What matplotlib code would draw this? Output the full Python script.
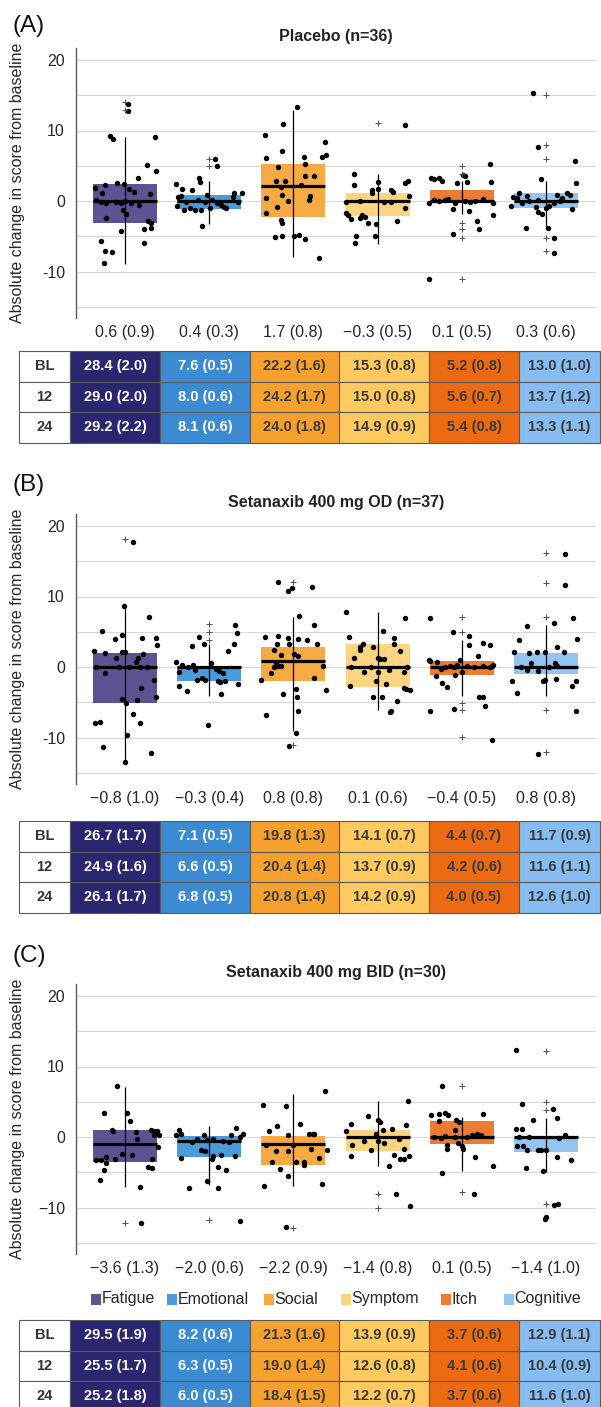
import matplotlib
matplotlib.use("Agg")
import matplotlib.pyplot as plt
from matplotlib.patches import Rectangle

plt.rcParams["font.family"] = ["Liberation Sans", "DejaVu Sans"]

# ---- shared ----
categories = ["Fatigue", "Emotional", "Social", "Symptom", "Itch", "Cognitive"]
timepoints = ["BL", "12", "24"]
box_colors = ["#5c5393", "#4b9bdb", "#f5aa43", "#fdd480", "#ee7b33", "#94c5f1"]
cell_colors = ["#2b2670", "#3a8bd2", "#f6a12e", "#fec95e", "#ec6a12", "#87bcf0"]
cell_text_colors = ["white", "white", "#3a3a3a", "#3a3a3a", "#3a3a3a", "#3a3a3a"]

# ---- (A) Placebo ----
placebo_title = "Placebo (n=36)"
placebo_q1 = [-3.1, -1.13, -2.2, -2.1, -0.3, -0.95]
placebo_median = [0.0, 0.0, 2.1, 0.0, 0.0, 0.0]
placebo_q3 = [2.36, 0.85, 5.3, 1.1, 1.55, 1.1]
placebo_lo = [-8.9, -3.2, -7.9, -6.1, -1.9, -3.9]
placebo_hi = [9.1, 2.9, 12.9, 3.8, 2.9, 2.9]
placebo_outliers = [[14.1, 12.9], [6.0, 5.0], [], [11.0],
                    [5.0, 3.8, -3.1, -4.0, -5.2, -11.1],
                    [15.0, 7.9, 5.9, -5.2, -7.1]]
placebo_dots = [
    [(-0.18, 9.2), (-0.14, 8.8), (0.36, 9.1), (0.03, 13.8), (0.03, 12.7), (0.26, 5.1), (0.37, 4.2),
     (0.15, 3.2), (-0.36, 1.9), (-0.24, 2.3), (-0.09, 2.6), (-0.01, 2.4), (0.05, 1.65), (0.11, 1.3),
     (0.30, 1.0), (-0.27, 1.2), (-0.34, 0.2), (-0.29, -0.2), (-0.23, -0.3), (-0.11, -0.1), (-0.05, -0.3),
     (0.0, 0.0), (0.07, -0.3), (0.17, -0.6), (-0.02, -1.3), (0.01, -1.8), (-0.22, -2.4), (0.27, -2.9),
     (0.31, -3.1), (-0.05, -4.2), (0.23, -4.0), (0.31, -3.9), (-0.28, -5.7), (0.23, -5.9), (-0.24, -7.1),
     (-0.16, -7.3), (-0.25, -8.8)],
    [(0.07, 5.9), (0.09, 5.0), (-0.39, 2.4), (-0.12, 3.3), (-0.11, 2.7), (-0.2, 1.5), (-0.32, 1.65),
     (-0.33, 0.7), (-0.37, 0.5), (-0.27, -0.1), (-0.23, -1.0), (-0.3, -1.3), (-0.38, -0.7), (-0.17, -1.3),
     (-0.1, -1.3), (-0.13, 0.15), (-0.05, -0.1), (0.03, 0.15), (-0.03, 0.85), (0.09, -0.3), (0.14, -0.6),
     (0.18, -0.8), (0.2, -1.0), (0.01, -1.0), (0.28, 0.6), (0.34, -0.1), (0.39, 1.2), (0.3, 1.1),
     (-0.08, -3.5), (0.11, -0.1)],
    [(-0.34, 9.4), (-0.12, 10.9), (0.04, 13.4), (0.38, 8.3), (-0.32, 6.05), (-0.13, 7.1), (0.12, 6.3),
     (0.34, 6.2), (0.39, 6.5), (-0.18, 4.8), (0.14, 5.2), (-0.21, 2.8), (-0.1, 2.8), (-0.32, 0.4),
     (-0.19, -0.8), (-0.15, 2.0), (-0.13, 0.85), (-0.07, 0.0), (0.09, 2.3), (0.14, 3.5), (0.24, 3.5),
     (0.2, 0.7), (0.18, 0.15), (-0.32, -1.65), (-0.15, -2.7), (-0.13, -3.1), (-0.22, -5.1), (-0.13, -5.0),
     (0.01, -5.0), (0.07, -4.8), (0.14, -5.4), (0.3, -8.1)],
    [(0.33, 10.8), (-0.28, 3.8), (-0.28, 2.2), (0.0, 2.7), (-0.07, 1.55), (-0.07, 1.2), (0.0, 1.7),
     (0.16, 1.55), (0.18, 1.3), (0.33, 2.6), (0.36, 2.8), (0.37, 0.7), (-0.37, -0.1), (-0.21, 0.0),
     (-0.38, -1.75), (-0.35, -2.0), (-0.31, -2.6), (-0.19, -2.0), (-0.15, -2.3), (-0.21, -2.4),
     (-0.11, -3.1), (-0.02, -3.2), (0.08, -0.1), (0.16, -0.2), (0.23, -2.9), (0.33, -1.0), (-0.26, -5.0),
     (-0.27, -5.9), (-0.03, -4.95)],
    [(-0.39, -11.1), (-0.37, 3.3), (-0.33, 3.1), (-0.27, 3.3), (-0.23, 2.9), (0.01, 3.7), (0.04, 3.6),
     (0.06, 2.7), (-0.06, 2.6), (0.33, 5.2), (0.35, 2.7), (-0.39, -0.3), (-0.33, 0.15), (-0.27, 0.0),
     (-0.2, 0.15), (-0.16, 0.25), (-0.11, -1.2), (-0.08, -0.3), (0.04, 0.0), (0.1, -0.1), (0.16, 0.0),
     (0.25, 0.25), (0.37, -0.3), (0.09, -1.4), (0.37, -2.0), (0.18, -2.9), (0.2, -4.0), (-0.1, -4.7)],
    [(-0.15, 15.3), (-0.09, 7.7), (-0.06, 3.1), (0.34, 5.7), (0.36, 2.6), (-0.32, 1.2), (-0.39, 0.6),
     (-0.35, 0.4), (-0.22, 0.7), (-0.41, -0.65), (-0.28, -0.25), (-0.2, 0.0), (-0.12, -0.8), (-0.1, -1.5),
     (-0.05, -1.85), (0.0, -1.0), (0.04, -0.65), (-0.1, 0.15), (0.13, 0.85), (0.19, 0.4), (0.25, 1.1),
     (0.29, 0.85), (0.09, -0.25), (0.17, 0.0), (0.31, -1.1), (-0.24, -3.8), (0.02, -3.8), (0.09, -5.3),
     (0.09, -7.4)],
]
placebo_change = [0.6, 0.4, 1.7, -0.3, 0.1, 0.3]
placebo_change_se = [0.9, 0.3, 0.8, 0.5, 0.5, 0.6]
placebo_table = [[28.4, 7.6, 22.2, 15.3, 5.2, 13.0],
                 [29.0, 8.0, 24.2, 15.0, 5.6, 13.7],
                 [29.2, 8.1, 24.0, 14.9, 5.4, 13.3]]
placebo_table_se = [[2.0, 0.5, 1.6, 0.8, 0.8, 1.0],
                    [2.0, 0.6, 1.7, 0.8, 0.7, 1.2],
                    [2.2, 0.6, 1.8, 0.9, 0.8, 1.1]]

# ---- (B) Setanaxib 400 mg OD ----
od_title = "Setanaxib 400 mg OD (n=37)"
od_q1 = [-5.1, -2.0, -2.0, -2.9, -1.1, -1.0]
od_median = [0.0, 0.0, 0.9, 0.0, 0.0, 0.0]
od_q3 = [2.0, 0.0, 2.9, 3.2, 0.9, 2.0]
od_lo = [-13.5, -4.1, -9.1, -6.05, -4.1, -4.1]
od_hi = [8.8, 3.2, 7.1, 7.85, 3.9, 5.96]
od_outliers = [[18.1], [6.05, 4.9, 3.9], [12.0, -11.0], [],
               [7.05, 4.9, -5.1, -6.05, -9.9],
               [16.1, 11.9, 7.05, -6.05, -12.1]]
od_dots = [
    [(0.09, 17.8), (-0.01, 8.65), (0.29, 7.1), (-0.27, 5.1), (-0.12, 4.0), (-0.03, 4.6), (0.2, 4.1),
     (0.37, 4.1), (0.38, 3.1), (-0.37, 2.2), (-0.24, 2.0), (-0.11, 1.3), (-0.04, 2.1), (0.0, 2.1),
     (0.21, 1.8), (0.16, 1.3), (-0.34, 0.0), (-0.24, -0.85), (-0.07, 0.0), (0.05, 0.0), (0.13, 0.65),
     (0.18, 0.0), (0.26, 0.0), (0.35, -1.8), (0.19, -3.0), (0.37, -4.3), (-0.04, -4.5), (0.01, -5.1),
     (0.14, -4.7), (0.09, -6.7), (-0.36, -8.0), (-0.3, -7.85), (0.18, -8.0), (0.02, -9.7), (-0.26, -11.4),
     (0.31, -12.2), (0.0, -13.5)],
    [(-0.4, 0.65), (-0.2, 3.0), (-0.12, 4.2), (-0.06, 3.2), (0.31, 6.0), (0.33, 4.8), (0.29, 3.3),
     (0.22, 2.2), (-0.36, -0.75), (-0.32, 0.25), (-0.25, 0.0), (-0.19, 0.25), (-0.17, -0.4), (-0.36, -2.7),
     (-0.26, -3.45), (-0.14, -1.9), (-0.09, -1.55), (-0.05, -1.8), (0.02, 0.55), (0.08, -0.3), (0.12, -0.5),
     (0.1, -2.0), (0.13, -2.1), (0.19, -2.0), (0.16, -0.85), (0.14, -3.8), (0.34, -2.4), (-0.01, -8.2)],
    [(-0.18, 12.0), (-0.06, 10.8), (-0.02, 11.2), (0.07, 7.2), (0.22, 11.4), (0.25, 5.9), (-0.34, 4.25),
     (-0.18, 4.35), (-0.07, 4.1), (0.05, 4.0), (0.16, 3.9), (-0.19, 3.2), (-0.05, 3.2), (0.28, 3.2),
     (-0.23, 2.4), (-0.15, 1.75), (0.01, 1.9), (0.05, 1.6), (-0.27, -0.85), (-0.23, -0.05), (-0.18, 0.1),
     (-0.15, 0.2), (-0.21, 0.55), (-0.39, -1.8), (0.24, -1.55), (0.35, 0.1), (-0.12, -3.9), (0.03, -3.1),
     (0.04, -4.25), (0.05, -6.3), (0.39, -3.3), (-0.33, -6.85), (0.03, -9.4), (-0.05, -11.25)],
    [(-0.37, 7.85), (0.32, 6.9), (0.06, 5.1), (-0.34, 4.3), (0.2, 4.1), (-0.21, 2.9), (-0.17, 3.2),
     (-0.06, 2.8), (0.19, 3.2), (0.27, 2.3), (-0.28, 1.3), (0.03, 1.1), (0.08, 1.1), (-0.21, 2.4),
     (0.0, 1.3), (-0.31, 0.0), (-0.16, -0.75), (-0.08, 0.0), (0.0, -0.75), (0.14, -0.4), (0.31, -0.75),
     (0.35, 0.0), (-0.33, -2.7), (-0.02, -2.0), (0.1, -2.4), (-0.06, -4.2), (0.05, -4.25), (0.23, -4.8),
     (0.31, -3.0), (0.34, -3.1), (0.39, -3.3), (0.16, -6.3), (0.15, -6.4)],
    [(-0.38, 7.0), (-0.1, 4.9), (0.09, 4.45), (0.25, 3.4), (0.34, 3.1), (0.08, 3.1), (0.19, 1.5),
     (-0.39, 1.05), (-0.38, 0.8), (-0.29, 0.65), (-0.25, -0.3), (-0.2, 0.0), (-0.14, 0.1), (-0.09, 0.0),
     (-0.06, 0.3), (-0.02, 1.05), (0.06, 0.2), (0.14, 0.0), (0.25, 0.2), (0.33, 0.0), (0.37, 0.3),
     (-0.31, -1.3), (-0.23, -2.2), (-0.17, -2.9), (-0.08, -1.1), (0.0, -0.7), (0.2, -4.2), (0.25, -4.3),
     (0.27, -5.6), (-0.09, -5.9), (-0.38, -6.2), (0.36, -10.3)],
    [(0.22, 16.0), (0.23, 11.6), (0.32, 7.0), (0.09, 6.2), (-0.23, 5.8), (-0.32, 3.9), (0.37, 4.0),
     (0.13, 2.9), (-0.38, 2.1), (-0.2, 2.0), (-0.11, 2.1), (-0.01, 2.1), (0.21, 2.1), (-0.3, 0.0),
     (-0.23, -0.4), (-0.18, 0.55), (-0.09, -0.6), (0.03, 0.0), (0.11, 0.5), (0.13, 0.2), (-0.4, -2.0),
     (-0.34, -3.7), (-0.03, -2.0), (-0.01, -1.8), (0.12, -1.7), (0.31, -2.7), (0.36, -2.0), (0.36, -6.3),
     (-0.09, -12.4)],
]
od_change = [-0.8, -0.3, 0.8, 0.1, -0.4, 0.8]
od_change_se = [1.0, 0.4, 0.8, 0.6, 0.5, 0.8]
od_table = [[26.7, 7.1, 19.8, 14.1, 4.4, 11.7],
            [24.9, 6.6, 20.4, 13.7, 4.2, 11.6],
            [26.1, 6.8, 20.8, 14.2, 4.0, 12.6]]
od_table_se = [[1.7, 0.5, 1.3, 0.7, 0.7, 0.9],
               [1.6, 0.5, 1.4, 0.9, 0.6, 1.1],
               [1.7, 0.5, 1.4, 0.9, 0.5, 1.0]]

# ---- (C) Setanaxib 400 mg BID ----
bid_title = "Setanaxib 400 mg BID (n=30)"
bid_q1 = [-3.55, -2.85, -4.0, -2.05, -0.95, -2.1]
bid_median = [-0.95, -0.55, -0.95, 0.0, 0.0, 0.0]
bid_q3 = [1.05, 0.15, 0.15, 0.95, 2.2, 0.0]
bid_lo = [-7.1, -6.75, -6.95, -4.1, -4.8, -4.95]
bid_hi = [7.1, 1.55, 6.15, 5.05, 2.9, 2.75]
bid_outliers = [[-12.2], [-11.8], [-12.9], [-8.05, -10.1], [7.2, -7.8], [12.2, 5.0, 3.8, -9.55]]
bid_dots = [
    [(-0.09, 7.2), (-0.25, 3.4), (0.02, 3.4), (0.06, 2.2), (-0.16, 1.05), (-0.14, 0.85), (0.13, 0.7),
     (0.14, -0.25), (0.31, 0.95), (0.34, 0.85), (0.38, 0.85), (0.4, 0.35), (0.35, 0.25), (0.39, -1.4),
     (-0.04, -2.35), (0.08, -2.6), (-0.34, -3.2), (-0.29, -3.2), (-0.22, -2.85), (-0.12, -3.1),
     (0.32, -3.1), (-0.22, -3.7), (-0.25, -4.7), (0.27, -4.25), (0.32, -4.35), (-0.3, -6.05),
     (0.18, -7.1), (0.19, -12.2)],
    [(-0.36, 0.95), (-0.33, 0.4), (-0.39, 0.25), (-0.06, 0.25), (-0.03, -0.4), (0.04, -0.25), (0.26, 0.25),
     (0.32, 1.3), (0.4, 0.45), (0.37, 0.0), (-0.1, -1.8), (-0.05, -2.0), (0.05, -2.75), (0.03, -3.1),
     (0.14, -2.6), (0.31, -2.75), (-0.34, -2.95), (0.11, -4.25), (0.2, -4.65), (-0.03, -6.3),
     (-0.24, -7.2), (0.1, -7.2), (0.37, -11.9), (-0.2, -0.7), (-0.14, -0.25), (0.16, -0.5), (0.23, -0.7)],
    [(-0.36, 4.6), (-0.09, 4.4), (0.37, 6.5), (-0.29, 0.85), (-0.19, 1.55), (-0.07, 0.25), (0.08, 1.8),
     (-0.32, -1.2), (-0.21, -2.0), (-0.07, -2.0), (0.0, -1.2), (0.18, 0.4), (0.23, 0.45), (0.25, 0.4),
     (0.21, -1.65), (0.4, -1.8), (0.3, -3.0), (-0.25, -3.6), (0.03, -3.55), (0.12, -3.55), (0.13, -4.0),
     (-0.16, -4.6), (-0.07, -5.6), (-0.35, -6.95), (0.34, -6.7), (-0.09, -12.8)],
    [(-0.11, 3.0), (-0.32, 1.8), (-0.37, 0.85), (0.36, 5.05), (0.01, 2.35), (0.03, 2.1), (0.06, 0.95),
     (0.17, 1.2), (0.34, 1.65), (-0.16, -0.6), (-0.3, -1.2), (-0.08, -1.8), (-0.02, 0.45), (0.0, -0.6),
     (0.08, -0.8), (0.25, -0.25), (-0.32, -2.75), (0.19, -2.6), (0.27, -3.1), (0.31, -3.1), (0.37, -2.75),
     (0.31, -1.65), (0.14, -4.1), (0.22, -8.05), (0.39, -9.85)],
    [(-0.24, 7.2), (-0.37, 3.05), (-0.27, 3.3), (-0.2, 3.45), (-0.16, 3.15), (0.25, 3.3), (-0.27, 2.2),
     (-0.07, 2.35), (-0.03, 2.1), (-0.08, 0.95), (-0.33, 0.0), (-0.25, -0.1), (-0.2, 0.1), (-0.08, 0.0),
     (0.06, 0.0), (0.12, 0.25), (0.18, 0.45), (0.23, 0.25), (-0.18, -1.2), (-0.18, -1.65), (0.0, -1.3),
     (0.01, -1.65), (-0.05, -0.8), (0.16, -2.85), (0.37, -4.15), (-0.23, -5.1), (0.14, -8.05)],
    [(-0.36, 12.4), (-0.29, 4.7), (-0.16, 2.45), (0.08, 4.0), (0.13, 2.7), (-0.36, 1.2), (-0.28, 1.2),
     (-0.34, -1.3), (-0.27, -1.3), (-0.22, -1.9), (-0.32, 0.0), (-0.2, 0.0), (0.15, -0.15), (0.23, 0.25),
     (-0.09, -1.9), (-0.06, -1.9), (0.0, -1.9), (-0.24, -4.4), (-0.04, -4.85), (0.13, -2.85), (0.3, -3.2),
     (0.1, -9.6), (0.14, -9.45), (-0.01, -11.6), (0.0, -11.35)],
]
bid_change = [-3.6, -2.0, -2.2, -1.4, 0.1, -1.4]
bid_change_se = [1.3, 0.6, 0.9, 0.8, 0.5, 1.0]
bid_table = [[29.5, 8.2, 21.3, 13.9, 3.7, 12.9],
             [25.5, 6.3, 19.0, 12.6, 4.1, 10.4],
             [25.2, 6.0, 18.4, 12.2, 3.7, 11.6]]
bid_table_se = [[1.9, 0.6, 1.6, 0.9, 0.6, 1.1],
                [1.7, 0.5, 1.4, 0.8, 0.6, 0.9],
                [1.8, 0.5, 1.5, 0.7, 0.6, 1.0]]

# ---- layout (pixels) ----
W, H = 601, 1407
AX_LEFT, AX_RIGHT, AX_H = 76, 596, 270
PX_PER_UNIT = 7.05
TXT = "#262626"
FS = 11.5

fig = plt.figure(figsize=(W / 100, H / 100), dpi=100)
canvas = fig.add_axes([0, 0, 1, 1], zorder=0)
canvas.set_xlim(0, W)
canvas.set_ylim(H, 0)
canvas.axis("off")


def fmt(m, s):
    return f"{m:.1f} ({s:.1f})".replace("-", "\u2212")


def draw_panel(top, zero, letter, letter_y, title, q1, med, q3, lo, hi, outliers, dots,
               change, change_se, tick_minus):
    ax = fig.add_axes([AX_LEFT / W, 1 - (top + AX_H) / H, (AX_RIGHT - AX_LEFT) / W, AX_H / H],
                      zorder=1)
    ax.set_facecolor("none")
    x = list(range(len(categories)))
    ax.bar(x, [b - a for a, b in zip(q1, q3)], bottom=q1, width=0.76,
           color=box_colors, linewidth=0, zorder=2)
    ax.vlines(x, lo, hi, color="black", lw=0.9, zorder=3)
    ax.hlines(med, [i - 0.38 for i in x], [i + 0.38 for i in x], color="black", lw=2.3, zorder=4)
    for i in x:
        ax.plot([i + d for d, _ in dots[i]], [v for _, v in dots[i]], "o", ms=3.9,
                color="black", mew=0, zorder=5)
        if outliers[i]:
            ax.plot([i] * len(outliers[i]), outliers[i], "+", ms=4.5, mew=0.7,
                    color="#505050", zorder=5)
    ax.set_xlim(-0.582, 5.594)
    ax.set_ylim(-(AX_H - (zero - top)) / PX_PER_UNIT, (zero - top) / PX_PER_UNIT)
    yt = list(range(-15, 21, 5))
    neg = "\u221210" if tick_minus else "-10"
    ax.set_yticks(yt)
    ax.set_yticklabels(["", neg, "", "0", "", "10", "", "20"])
    ax.set_xticks(x)
    ax.set_xticklabels([fmt(m, s) for m, s in zip(change, change_se)])
    ax.tick_params(axis="both", length=0, labelsize=FS, colors=TXT)
    ax.tick_params(axis="y", pad=8)
    ax.tick_params(axis="x", pad=5)
    ax.yaxis.grid(True, color="#d9d9d9", lw=0.9, zorder=0)
    ax.set_axisbelow(True)
    for s in ("top", "right", "bottom"):
        ax.spines[s].set_visible(False)
    ax.spines["left"].set_color("#595959")
    ax.spines["left"].set_linewidth(1.0)

    canvas.text(12, letter_y, letter, fontsize=17.5, color="#111111", ha="left", va="center")
    canvas.text((AX_LEFT + AX_RIGHT) / 2, top - 11, title, fontsize=FS, fontweight="bold",
                color="#222222", ha="center", va="center")
    canvas.text(18, top + AX_H / 2, "Absolute change in score from baseline", rotation=90,
                fontsize=FS, color=TXT, ha="center", va="center")
    return ax


col_edges = [19, 70, 160, 250, 339, 429, 519, 600]
ROW_H = 30.5


def draw_table(top, values, ses):
    for r, tp in enumerate(timepoints):
        y0 = top + r * ROW_H
        canvas.add_patch(Rectangle((col_edges[0], y0), col_edges[1] - col_edges[0], ROW_H,
                                   facecolor="white", edgecolor="#5a5a5a", lw=0.8))
        canvas.text((col_edges[0] + col_edges[1]) / 2, y0 + ROW_H / 2, tp, fontsize=10.5,
                    fontweight="bold", color="#333333", ha="center", va="center")
        for c in range(len(categories)):
            x0, x1 = col_edges[c + 1], col_edges[c + 2]
            canvas.add_patch(Rectangle((x0, y0), x1 - x0, ROW_H, facecolor=cell_colors[c],
                                       edgecolor="#5a5a5a", lw=0.8))
            canvas.text((x0 + x1) / 2, y0 + ROW_H / 2, fmt(values[r][c], ses[r][c]),
                        fontsize=10.5, fontweight="bold", color=cell_text_colors[c],
                        ha="center", va="center")


draw_panel(48, 201, "(A)", 26, placebo_title, placebo_q1, placebo_median, placebo_q3,
           placebo_lo, placebo_hi, placebo_outliers, placebo_dots,
           placebo_change, placebo_change_se, False)
draw_table(351, placebo_table, placebo_table_se)

draw_panel(514, 667, "(B)", 485, od_title, od_q1, od_median, od_q3, od_lo, od_hi,
           od_outliers, od_dots, od_change, od_change_se, False)
draw_table(821, od_table, od_table_se)

draw_panel(984, 1137, "(C)", 956, bid_title, bid_q1, bid_median, bid_q3, bid_lo, bid_hi,
           bid_outliers, bid_dots, bid_change, bid_change_se, True)

# legend row under panel C
legend_x = [91, 167, 264, 341, 441, 504]
LEG_Y = 1299
for lx, name, col in zip(legend_x, categories, box_colors):
    canvas.add_patch(Rectangle((lx, LEG_Y - 5.5), 10, 11, facecolor=col, edgecolor="none"))
    canvas.text(lx + 10.5, LEG_Y, name, fontsize=FS, color=TXT, ha="left", va="center")

draw_table(1320, bid_table, bid_table_se)

fig.savefig("out.png", dpi=100)
